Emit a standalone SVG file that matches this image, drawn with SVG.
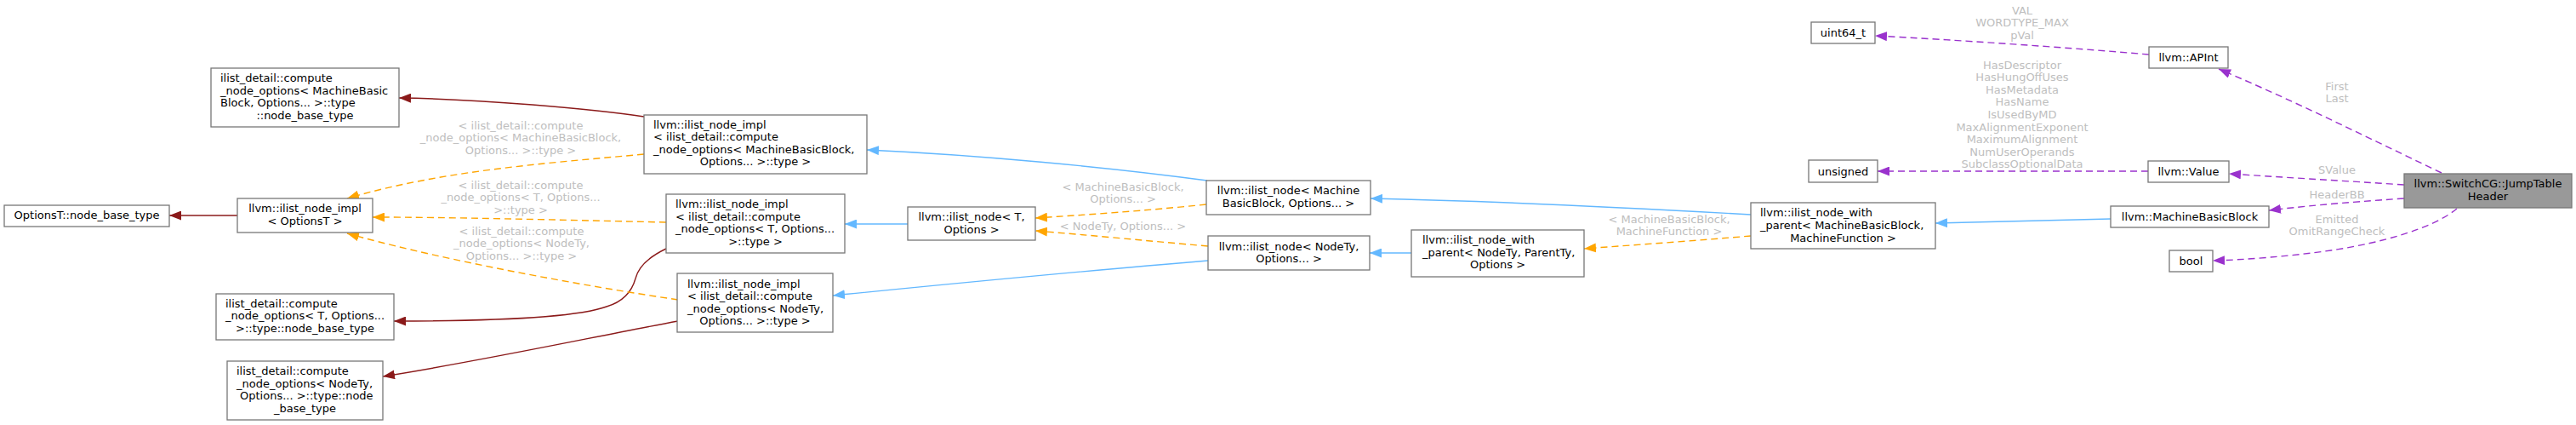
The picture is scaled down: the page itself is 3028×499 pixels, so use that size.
<svg xmlns="http://www.w3.org/2000/svg" width="3028" height="499" viewBox="0 0 3028 499">
<style>
.n rect{fill:#ffffff;stroke:#777777;stroke-width:1.3}
.n text{font-family:"DejaVu Sans","Liberation Sans",sans-serif;font-size:13px;fill:#000000}
.c{text-anchor:middle}
.l{text-anchor:start}
.e path{fill:none;stroke-width:1.4}
.lbl text{font-family:"DejaVu Sans","Liberation Sans",sans-serif;font-size:13px;fill:#bebebe;text-anchor:middle}
.blue{stroke:#63b8ff}
.red{stroke:#8b1a1a}
.org{stroke:#ffa500;stroke-dasharray:8,5}
.pur{stroke:#9a32cd;stroke-dasharray:8,5}
</style>
<defs>
<marker id="ab" viewBox="0 0 14 11" refX="14" refY="5.5" markerWidth="14" markerHeight="11" markerUnits="userSpaceOnUse" orient="auto"><path d="M0,0 L14,5.5 L0,11 z" fill="#63b8ff"/></marker>
<marker id="ar" viewBox="0 0 14 11" refX="14" refY="5.5" markerWidth="14" markerHeight="11" markerUnits="userSpaceOnUse" orient="auto"><path d="M0,0 L14,5.5 L0,11 z" fill="#8b1a1a"/></marker>
<marker id="ao" viewBox="0 0 14 11" refX="14" refY="5.5" markerWidth="14" markerHeight="11" markerUnits="userSpaceOnUse" orient="auto"><path d="M0,0 L14,5.5 L0,11 z" fill="#ffa500"/></marker>
<marker id="ap" viewBox="0 0 14 11" refX="14" refY="5.5" markerWidth="14" markerHeight="11" markerUnits="userSpaceOnUse" orient="auto"><path d="M0,0 L14,5.5 L0,11 z" fill="#9a32cd"/></marker>
</defs>
<rect width="3028" height="499" fill="#ffffff"/>

<g id="connectors" class="e">
<path class="red" d="M279,253 L199,253" marker-end="url(#ar)"/>
<path class="red" d="M757,137 C700,128 560,116 469,115" marker-end="url(#ar)"/>
<path class="red" d="M783,292 C760,303 750,315 747,327 C742,345 730,355 713,360 C680,372 600,377 463,377" marker-end="url(#ar)"/>
<path class="red" d="M797,377 C700,395 560,425 450,442" marker-end="url(#ar)"/>
<path class="org" d="M757,181 C640,192 520,200 408,233" marker-end="url(#ao)"/>
<path class="org" d="M783,261 C650,258 530,255 438,255" marker-end="url(#ao)"/>
<path class="org" d="M797,352 C650,330 500,300 408,274" marker-end="url(#ao)"/>
<path class="blue" d="M1419,212 C1300,196 1150,182 1019,176" marker-end="url(#ab)"/>
<path class="blue" d="M1067,263 L993,263" marker-end="url(#ab)"/>
<path class="blue" d="M1420,306 C1250,320 1100,335 979,347" marker-end="url(#ab)"/>
<path class="org" d="M1418,240 C1340,248 1280,252 1217,256" marker-end="url(#ao)"/>
<path class="org" d="M1420,289 C1340,282 1280,276 1217,271" marker-end="url(#ao)"/>
<path class="blue" d="M1659,297 L1610,297" marker-end="url(#ab)"/>
<path class="blue" d="M2058,252 C1900,243 1750,236 1611,233" marker-end="url(#ab)"/>
<path class="org" d="M2058,277 C2000,282 1930,287 1862,292" marker-end="url(#ao)"/>
<path class="blue" d="M2481,257 C2400,259 2330,261 2275,262" marker-end="url(#ab)"/>
<path class="pur" d="M2526,64 C2420,55 2300,47 2204,42" marker-end="url(#ap)"/>
<path class="pur" d="M2525,201 L2207,201" marker-end="url(#ap)"/>
<path class="pur" d="M2870,203 C2780,160 2700,120 2608,81" marker-end="url(#ap)"/>
<path class="pur" d="M2826,217 C2750,212 2680,208 2620,204" marker-end="url(#ap)"/>
<path class="pur" d="M2826,233 C2750,238 2700,243 2667,247" marker-end="url(#ap)"/>
<path class="pur" d="M2888,245 C2860,268 2800,285 2740,294 C2690,301 2640,305 2601,306" marker-end="url(#ap)"/>
</g>

<g id="edge-labels" class="lbl">
<text x="612" y="151.5">&lt; ilist_detail::compute</text>
<text x="612" y="166">_node_options&lt; MachineBasicBlock,</text>
<text x="612" y="180.5">Options... &gt;::type &gt;</text>
<text x="612" y="221.5">&lt; ilist_detail::compute</text>
<text x="612" y="236">_node_options&lt; T, Options...</text>
<text x="612" y="250.5">&gt;::type &gt;</text>
<text x="613" y="275.5">&lt; ilist_detail::compute</text>
<text x="613" y="290">_node_options&lt; NodeTy,</text>
<text x="613" y="304.5">Options... &gt;::type &gt;</text>
<text x="1320" y="223.5">&lt; MachineBasicBlock,</text>
<text x="1320" y="238">Options... &gt;</text>
<text x="1320" y="269.5">&lt; NodeTy, Options... &gt;</text>
<text x="1962" y="261.5">&lt; MachineBasicBlock,</text>
<text x="1962" y="276">MachineFunction &gt;</text>
<text x="2377" y="16.5">VAL</text>
<text x="2377" y="31">WORDTYPE_MAX</text>
<text x="2377" y="45.5">pVal</text>
<text x="2377" y="80.5">HasDescriptor</text>
<text x="2377" y="95.1">HasHungOffUses</text>
<text x="2377" y="109.7">HasMetadata</text>
<text x="2377" y="124.3">HasName</text>
<text x="2377" y="138.9">IsUsedByMD</text>
<text x="2377" y="153.5">MaxAlignmentExponent</text>
<text x="2377" y="168.1">MaximumAlignment</text>
<text x="2377" y="182.7">NumUserOperands</text>
<text x="2377" y="197.3">SubclassOptionalData</text>
<text x="2747" y="105.5">First</text>
<text x="2747" y="120">Last</text>
<text x="2747" y="203.5">SValue</text>
<text x="2747" y="232.5">HeaderBB</text>
<text x="2747" y="261.5">Emitted</text>
<text x="2747" y="276">OmitRangeCheck</text>
</g>

<g id="node-optionst-base" class="n">
<rect x="5" y="241" width="194" height="25"/>
<text class="c" x="102" y="257">OptionsT::node_base_type</text>
</g>
<g id="node-cno-mbb-base" class="n">
<rect x="248" y="80" width="221" height="69"/>
<text class="l" x="259" y="96">ilist_detail::compute</text>
<text class="l" x="259" y="110.5">_node_options&lt; MachineBasic</text>
<text class="l" x="259" y="125">Block, Options... &gt;::type</text>
<text class="c" x="358.5" y="139.5">::node_base_type</text>
</g>
<g id="node-impl-optionst" class="n">
<rect x="279" y="233" width="159" height="40"/>
<text class="c" x="358.5" y="249">llvm::ilist_node_impl</text>
<text class="c" x="358.5" y="263.5">&lt; OptionsT &gt;</text>
</g>
<g id="node-cno-t-base" class="n">
<rect x="254" y="345" width="209" height="54"/>
<text class="l" x="265" y="360.5">ilist_detail::compute</text>
<text class="l" x="265" y="375">_node_options&lt; T, Options...</text>
<text class="c" x="358.5" y="389.5">&gt;::type::node_base_type</text>
</g>
<g id="node-cno-nodety-base" class="n">
<rect x="267" y="424" width="183" height="69"/>
<text class="l" x="278" y="440">ilist_detail::compute</text>
<text class="l" x="278" y="454.5">_node_options&lt; NodeTy,</text>
<text class="l" x="282" y="469">Options... &gt;::type::node</text>
<text class="c" x="358.5" y="483.5">_base_type</text>
</g>
<g id="node-impl-mbb" class="n">
<rect x="757" y="135" width="262" height="69"/>
<text class="l" x="768" y="150.5">llvm::ilist_node_impl</text>
<text class="l" x="768" y="165">&lt; ilist_detail::compute</text>
<text class="l" x="768" y="179.5">_node_options&lt; MachineBasicBlock,</text>
<text class="c" x="888" y="194">Options... &gt;::type &gt;</text>
</g>
<g id="node-impl-t" class="n">
<rect x="783" y="228" width="210" height="69"/>
<text class="l" x="794" y="244">llvm::ilist_node_impl</text>
<text class="l" x="794" y="258.5">&lt; ilist_detail::compute</text>
<text class="l" x="794" y="273">_node_options&lt; T, Options...</text>
<text class="c" x="888" y="287.5">&gt;::type &gt;</text>
</g>
<g id="node-impl-nodety" class="n">
<rect x="796" y="321" width="183" height="69"/>
<text class="l" x="808" y="337.5">llvm::ilist_node_impl</text>
<text class="l" x="808" y="352">&lt; ilist_detail::compute</text>
<text class="l" x="808" y="366.5">_node_options&lt; NodeTy,</text>
<text class="c" x="887.5" y="381">Options... &gt;::type &gt;</text>
</g>
<g id="node-ilist-node-t" class="n">
<rect x="1067" y="243" width="150" height="39"/>
<text class="c" x="1142" y="259">llvm::ilist_node&lt; T,</text>
<text class="c" x="1142" y="273.5">Options &gt;</text>
</g>
<g id="node-ilist-node-mbb" class="n">
<rect x="1418" y="212" width="193" height="40"/>
<text class="c" x="1514.5" y="228">llvm::ilist_node&lt; Machine</text>
<text class="c" x="1514.5" y="243">BasicBlock, Options... &gt;</text>
</g>
<g id="node-ilist-node-nodety" class="n">
<rect x="1420" y="277" width="190" height="40"/>
<text class="c" x="1515" y="294">llvm::ilist_node&lt; NodeTy,</text>
<text class="c" x="1515" y="308">Options... &gt;</text>
</g>
<g id="node-with-parent-generic" class="n">
<rect x="1659" y="270" width="203" height="55"/>
<text class="l" x="1672" y="286">llvm::ilist_node_with</text>
<text class="l" x="1672" y="300.5">_parent&lt; NodeTy, ParentTy,</text>
<text class="c" x="1760.5" y="315">Options &gt;</text>
</g>
<g id="node-with-parent-mbb" class="n">
<rect x="2058" y="238" width="217" height="54"/>
<text class="l" x="2069" y="254">llvm::ilist_node_with</text>
<text class="l" x="2069" y="269">_parent&lt; MachineBasicBlock,</text>
<text class="c" x="2166.5" y="283.5">MachineFunction &gt;</text>
</g>
<g id="node-uint64" class="n">
<rect x="2129" y="26" width="75" height="25"/>
<text class="c" x="2166.5" y="43">uint64_t</text>
</g>
<g id="node-unsigned" class="n">
<rect x="2126" y="188" width="81" height="26"/>
<text class="c" x="2166.5" y="205.5">unsigned</text>
</g>
<g id="node-apint" class="n">
<rect x="2526" y="55" width="93" height="25"/>
<text class="c" x="2572.5" y="72">llvm::APInt</text>
</g>
<g id="node-value" class="n">
<rect x="2525" y="189" width="95" height="25"/>
<text class="c" x="2572.5" y="206">llvm::Value</text>
</g>
<g id="node-mbb" class="n">
<rect x="2481" y="242" width="186" height="25"/>
<text class="c" x="2574" y="259">llvm::MachineBasicBlock</text>
</g>
<g id="node-bool" class="n">
<rect x="2550" y="294" width="51" height="25"/>
<text class="c" x="2575.5" y="311">bool</text>
</g>
<g id="node-jth" class="n">
<rect x="2826" y="204" width="197" height="40" style="fill:#999999"/>
<text class="c" x="2924.5" y="220">llvm::SwitchCG::JumpTable</text>
<text class="c" x="2924.5" y="234.5">Header</text>
</g>
</svg>
